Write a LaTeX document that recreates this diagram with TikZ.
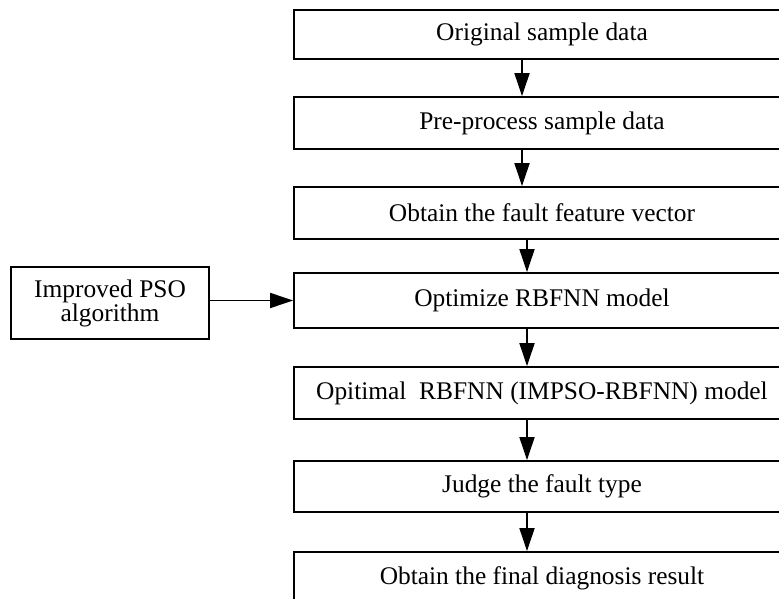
\documentclass[tikz,border=0pt]{standalone}
\usepackage{fontspec}
\setmainfont{Liberation Serif}
\usetikzlibrary{arrows.meta}
\begin{document}
\begin{tikzpicture}[x=1pt,y=-1pt,
  box/.style={draw, line width=1.8pt, rectangle, inner sep=0pt, minimum width=496pt, font=\fontsize{25.4}{26}\selectfont},
  side/.style={draw, line width=1.8pt, rectangle, inner sep=0pt, minimum width=198pt, minimum height=72pt, align=center, font=\fontsize{25.4}{24}\selectfont},
  arr/.style={line width=1.8pt, -{Triangle[length=23pt,width=15pt]}}]
\useasboundingbox (0,0) rectangle (779,599);
\clip (0,0) rectangle (779,599);
\node[box, minimum height=49pt] (b1) at (542,34.5) {Original sample data};
\node[box, minimum height=52pt] (b2) at (542,123) {Pre-process sample data};
\node[box, minimum height=52pt] (b3) at (542,213) {Obtain the fault feature vector};
\node[box, minimum height=55pt] (b4) at (542,300.5) {Optimize RBFNN model};
\node[box, minimum height=52pt] (b5) at (542,393) {Opitimal\ \ RBFNN (IMPSO-RBFNN) model};
\node[box, minimum height=51pt] (b6) at (542,486.5) {Judge the fault type};
\node[box, minimum height=52pt] (b7) at (542,578) {Obtain the final diagnosis result};
\node[side] (ps) at (110,303) {Improved PSO\\algorithm};
\draw[arr] ([xshift=-20pt]b1.south) -- ([xshift=-20pt]b2.north);
\draw[arr] ([xshift=-20pt]b2.south) -- ([xshift=-20pt]b3.north);
\draw[arr] ([xshift=-15pt]b3.south) -- ([xshift=-15pt]b4.north);
\draw[arr] ([xshift=-15pt]b4.south) -- ([xshift=-15pt]b5.north);
\draw[arr] ([xshift=-15pt]b5.south) -- ([xshift=-15pt]b6.north);
\draw[arr] ([xshift=-15pt]b6.south) -- ([xshift=-15pt]b7.north);
\draw[arr] (ps.east |- b4.west) -- (b4.west);
\end{tikzpicture}
\end{document}
